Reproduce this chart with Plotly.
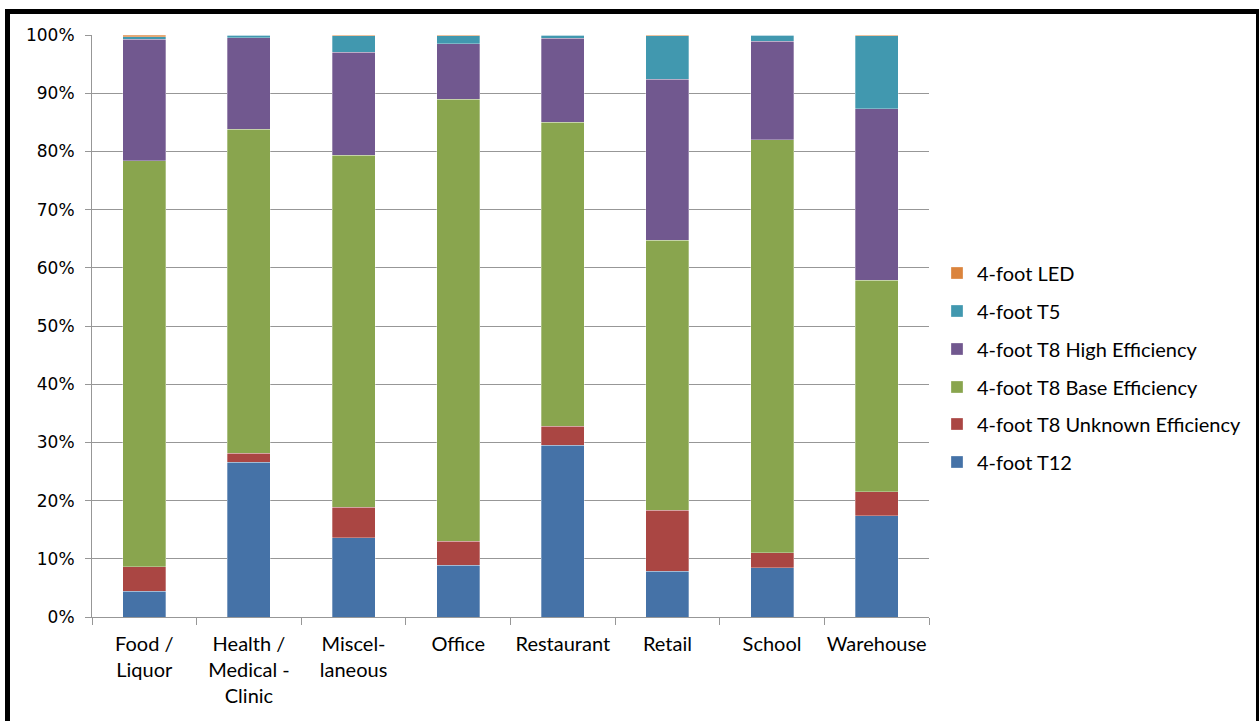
import plotly.graph_objects as go

categories = ["Food /<br>Liquor", "Health /<br>Medical -<br>Clinic", "Miscel-<br>laneous", "Office",
              "Restaurant", "Retail", "School", "Warehouse"]

t12 = [4.4, 26.6, 13.6, 8.9, 29.5, 7.9, 8.5, 17.4]
t8_unknown = [4.2, 1.5, 5.3, 4.1, 3.3, 10.4, 2.5, 4.1]
t8_base = [69.8, 55.7, 60.4, 76.0, 52.2, 46.4, 71.0, 36.4]
t8_high = [20.9, 15.7, 17.7, 9.5, 14.4, 27.7, 16.9, 29.4]
t5 = [0.4, 0.5, 2.9, 1.4, 0.6, 7.5, 1.1, 12.6]
led = [0.3, 0.0, 0.1, 0.1, 0.0, 0.1, 0.0, 0.1]

series = [
    ("4-foot T12", t12, "#4572A7"),
    ("4-foot T8 Unknown Efficiency", t8_unknown, "#AA4643"),
    ("4-foot T8 Base Efficiency", t8_base, "#89A54E"),
    ("4-foot T8 High Efficiency", t8_high, "#71588F"),
    ("4-foot T5", t5, "#4198AF"),
    ("4-foot LED", led, "#DB843D"),
]

# plot area in pixels
L, R, T, B = 92, 929, 35, 617
W, H = 1259, 721
pw, ph = R - L, B - T

def px_x(x):
    return (x - L) / pw

def px_y(y):
    return (B - y) / ph

fig = go.Figure()
legend_names = ["legend6", "legend5", "legend4", "legend3", "legend2", "legend"]
for (name, vals, color), lg in zip(series, legend_names):
    fig.add_trace(go.Bar(
        x=categories, y=[v / 100 for v in vals], name=name,
        marker=dict(color=color, line=dict(width=0.6, color="rgba(255,255,255,0.5)")),
        legend=lg, hovertemplate="%{y:.1%}<extra>" + name + "</extra>",
    ))

legend_y_px = {"legend": 273, "legend2": 311, "legend3": 349, "legend4": 387, "legend5": 424, "legend6": 462}
legend_common = dict(x=px_x(937), xanchor="left", yanchor="middle", bgcolor="rgba(0,0,0,0)",
                     font=dict(family="Lato", size=20, color="#000000"), borderwidth=0)
layout_legends = {k: dict(legend_common, y=px_y(v)) for k, v in legend_y_px.items()}

fig.update_layout(
    width=W, height=H,
    margin=dict(l=L, r=W - R, t=T, b=H - B, autoexpand=False),
    barmode="stack", bargap=0.59,
    plot_bgcolor="white", paper_bgcolor="white",
    showlegend=True,
    **layout_legends,
)

fig.update_yaxes(
    range=[0, 1], tickformat=".0%", dtick=0.1, tick0=0,
    showgrid=True, gridcolor="#979797", gridwidth=1,
    showline=True, linecolor="#979797", linewidth=1,
    ticks="outside", ticklen=6, tickcolor="#979797",
    tickfont=dict(family="DejaVu Sans", size=17, color="#000000"),
    ticklabelstandoff=7, zeroline=False,
)
fig.update_xaxes(
    showline=True, linecolor="#979797", linewidth=1,
    ticks="outside", ticklen=7, tickcolor="#979797", tickson="boundaries",
    tickfont=dict(family="Lato", size=20, color="#000000"),
    tickangle=0, ticklabelstandoff=9,
    showgrid=False,
)

# decorative black frame around the chart
frame = [
    (5, 9, 10, 730),      # left
    (5, 9, 1259, 14),     # top
    (1256, 9, 1262, 730), # right
]
for x0, y0, x1, y1 in frame:
    fig.add_shape(type="rect", xref="paper", yref="paper",
                  x0=px_x(x0), x1=px_x(x1), y0=px_y(y1), y1=px_y(y0),
                  fillcolor="black", line=dict(width=0), layer="above")

fig.write_html("out.html")
